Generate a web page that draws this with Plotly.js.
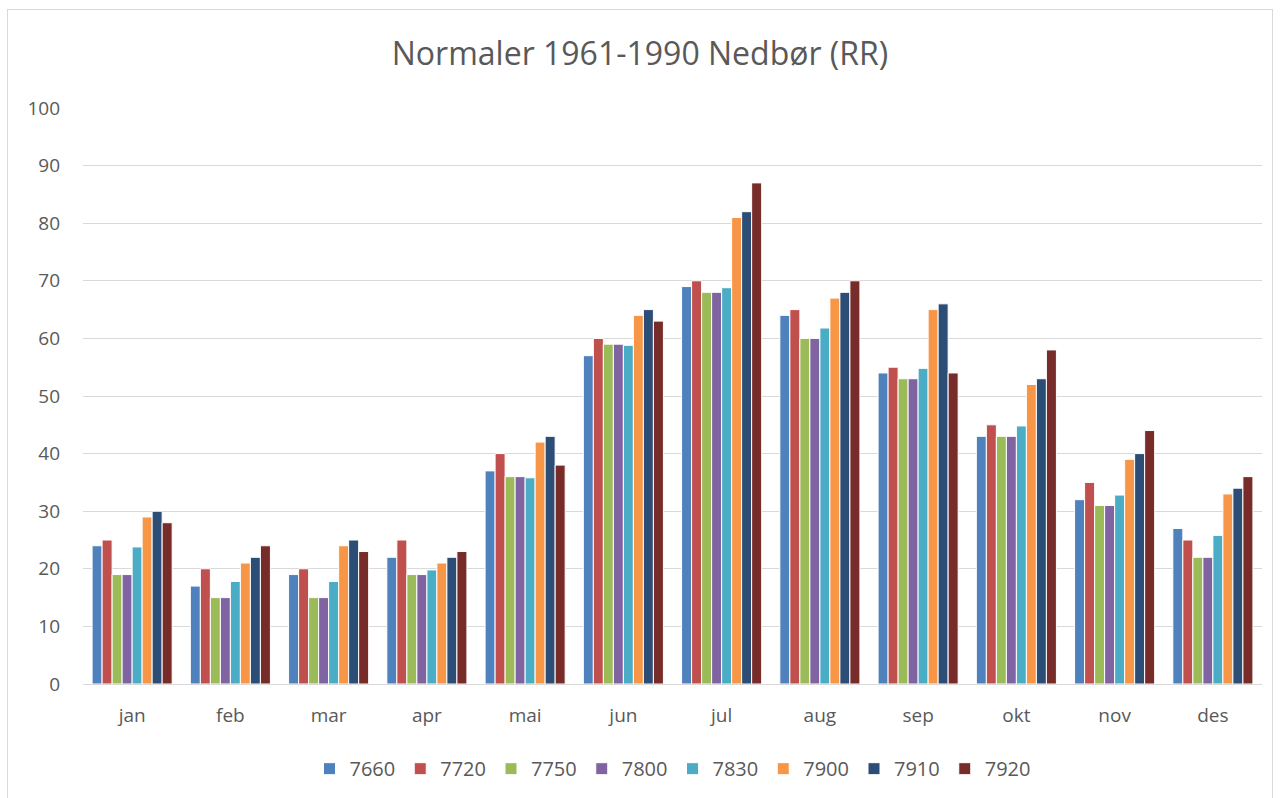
<!DOCTYPE html>
<html><head><meta charset="utf-8">
<script src="https://cdn.plot.ly/plotly-3.0.1.min.js"></script>
<style>
html,body{margin:0;padding:0;background:#fff;}
#frame{position:absolute;left:7px;top:9px;width:1266px;height:800px;border:1px solid #d9d9d9;box-sizing:border-box;}
#chart{position:absolute;left:0;top:0;width:1280px;height:798px;}
</style>
</head><body>
<div id="frame"></div>
<div id="chart"></div>
<script>
const months = ["jan","feb","mar","apr","mai","jun","jul","aug","sep","okt","nov","des"];
const stations = ["7660","7720","7750","7800","7830","7900","7910","7920"];
const s7660 = [24,17,19,22,37,57,69,64,54,43,32,27];
const s7720 = [25,20,20,25,40,60,70,65,55,45,35,25];
const s7750 = [19,15,15,19,36,59,68,60,53,43,31,22];
const s7800 = [19,15,15,19,36,59,68,60,53,43,31,22];
const s7830 = [23.8,17.8,17.8,19.8,35.8,58.8,68.8,61.8,54.8,44.8,32.8,25.8];
const s7900 = [29,21,24,21,42,64,81,67,65,52,39,33];
const s7910 = [30,22,25,22,43,65,82,68,66,53,40,34];
const s7920 = [28,24,23,23,38,63,87,70,54,58,44,36];
const seriesValues = [s7660,s7720,s7750,s7800,s7830,s7900,s7910,s7920];
const colors = ["#4F81BD","#C0504D","#9BBB59","#8064A2","#4BACC6","#F79646","#2C4D75","#772C2A"];

const traces = stations.map((st,i)=>({
  type:"bar", name:st, x:months, y:seriesValues[i],
  marker:{color:colors[i], line:{color:"#ffffff", width:1}},
  hoverinfo:"x+y+name"
}));

const layout = {
  width:1280, height:798,
  paper_bgcolor:"rgba(0,0,0,0)", plot_bgcolor:"rgba(0,0,0,0)",
  font:{family:"Open Sans, Noto Sans, sans-serif", color:"#595959", size:18},
  title:{text:"Normaler 1961-1990 Nedbør (RR)", x:0.5, xanchor:"center", y:0.932, yanchor:"middle",
         font:{size:32, color:"#595959", family:"Open Sans, Noto Sans, sans-serif"}},
  margin:{l:83, r:18, t:108, b:114, autoexpand:false},
  barmode:"group", bargap:0.185, bargroupgap:0,
  xaxis:{type:"category", showgrid:false, zeroline:false, showline:true, linecolor:"#d9d9d9", linewidth:1,
         ticks:"", tickfont:{size:19,color:"#595959"}, ticklabelstandoff:14},
  yaxis:{range:[0,100], dtick:10, showgrid:true, gridcolor:"#d9d9d9", gridwidth:1, zeroline:false,
         showline:false, ticks:"", tickfont:{size:19,color:"#595959"}, ticklabelstandoff:22},
  legend:{orientation:"h", x:0.5, xanchor:"center", y:-0.147, yanchor:"middle",
          font:{size:20,color:"#595959"}, itemwidth:30, traceorder:"normal"},
  showlegend:true
};
Plotly.newPlot("chart", traces, layout, {displayModeBar:false, staticPlot:true});
</script>
</body></html>
